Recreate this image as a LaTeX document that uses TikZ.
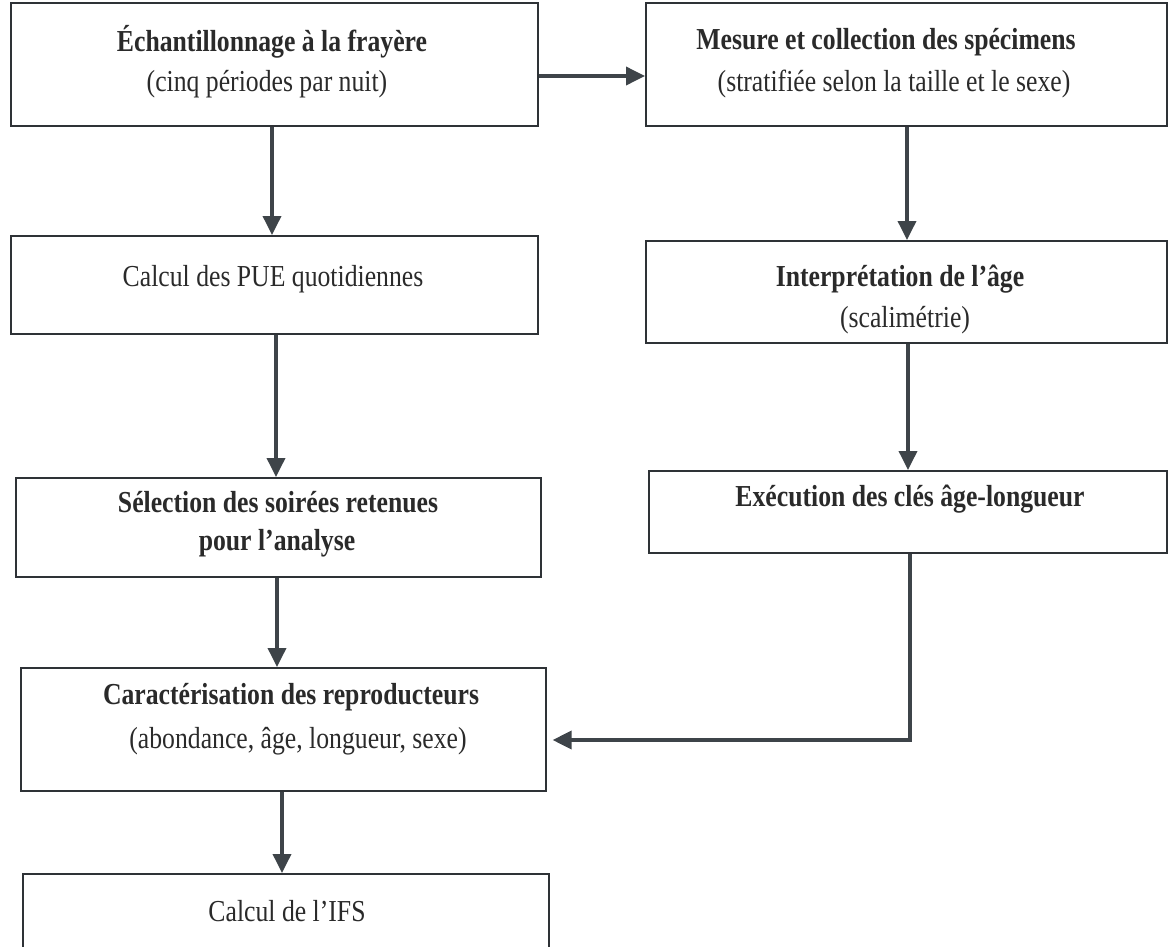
\documentclass[tikz,border=0pt]{standalone}
\usepackage{fontspec}
\setmainfont{Liberation Serif}
\usetikzlibrary{arrows.meta}
\definecolor{linec}{HTML}{2E3236}
\definecolor{arrc}{HTML}{3E4449}
\definecolor{txtc}{HTML}{2A2A2A}
\newcommand{\tallt}[1]{\scalebox{0.97}[1.15]{#1}}
\tikzset{
  x=1pt, y=-1pt,
  box/.style={draw=linec, line width=1.6pt, rectangle, anchor=north west, inner sep=0pt},
  lbl/.style={text=txtc, font=\fontsize{26.5}{30}\selectfont, inner sep=0pt, anchor=center},
  blbl/.style={lbl, font=\fontsize{26.5}{30}\selectfont\bfseries},
  flow/.style={draw=arrc, line width=3.6pt, -{Triangle[width=18pt,length=19pt]}},
}
\begin{document}
\begin{tikzpicture}
\useasboundingbox (0,0) rectangle (1168,946);
\clip (0,0) rectangle (1168,946);
% boxes
\node[box, minimum width=527pt, minimum height=123pt] (b1) at (10,2) {};
\node[box, minimum width=521pt, minimum height=123pt] (b2) at (645,2) {};
\node[box, minimum width=527pt, minimum height=98pt] (b3) at (10,235) {};
\node[box, minimum width=521pt, minimum height=102pt] (b4) at (645,240) {};
\node[box, minimum width=525pt, minimum height=99pt] (b5) at (15,477) {};
\node[box, minimum width=518pt, minimum height=82pt] (b6) at (648,470) {};
\node[box, minimum width=525pt, minimum height=123pt] (b7) at (20,667) {};
\node[box, minimum width=526pt, minimum height=90pt] (b8) at (22,873) {};
% texts
\node[blbl] (t1a) at (272,42) {\tallt{Échantillonnage à la frayère}};
\node[lbl]  (t1b) at (267,84) {\tallt{(cinq périodes par nuit)}};
\node[blbl] (t2a) at (886,42) {\tallt{Mesure et collection des spécimens}};
\node[lbl]  (t2b) at (894,84) {\tallt{(stratifiée selon la taille et le sexe)}};
\node[lbl]  (t3)  at (273,279) {\tallt{Calcul des PUE quotidiennes}};
\node[blbl] (t4a) at (900,279) {\tallt{Interprétation de l’âge}};
\node[lbl]  (t4b) at (905,320) {\tallt{(scalimétrie)}};
\node[blbl] (t5a) at (278,502) {\tallt{Sélection des soirées retenues}};
\node[blbl] (t5b) at (277,543) {\tallt{pour l’analyse}};
\node[blbl] (t6)  at (910,499) {\tallt{Exécution des clés âge-longueur}};
\node[blbl] (t7a) at (291,697) {\tallt{Caractérisation des reproducteurs}};
\node[lbl]  (t7b) at (298,741) {\tallt{(abondance, âge, longueur, sexe)}};
\node[lbl]  (t8)  at (287,911) {\tallt{Calcul de l’IFS}};
% connectors
\draw[flow] (b1.east |- 0,76) -- (b2.west |- 0,76);
\draw[flow] (b1.south -| 272,0) -- (b3.north -| 272,0);
\draw[flow] (b2.south -| 907,0) -- (b4.north -| 907,0);
\draw[flow] (b3.south -| 276,0) -- (b5.north -| 276,0);
\draw[flow] (b4.south -| 908,0) -- (b6.north -| 908,0);
\draw[flow] (b5.south -| 277,0) -- (b7.north -| 277,0);
\draw[flow] (b6.south -| 910,0) -- (910,740) -- ([xshift=6pt]b7.east |- 0,740);
\draw[flow] (b7.south -| 282,0) -- (b8.north -| 282,0);
\end{tikzpicture}
\end{document}
